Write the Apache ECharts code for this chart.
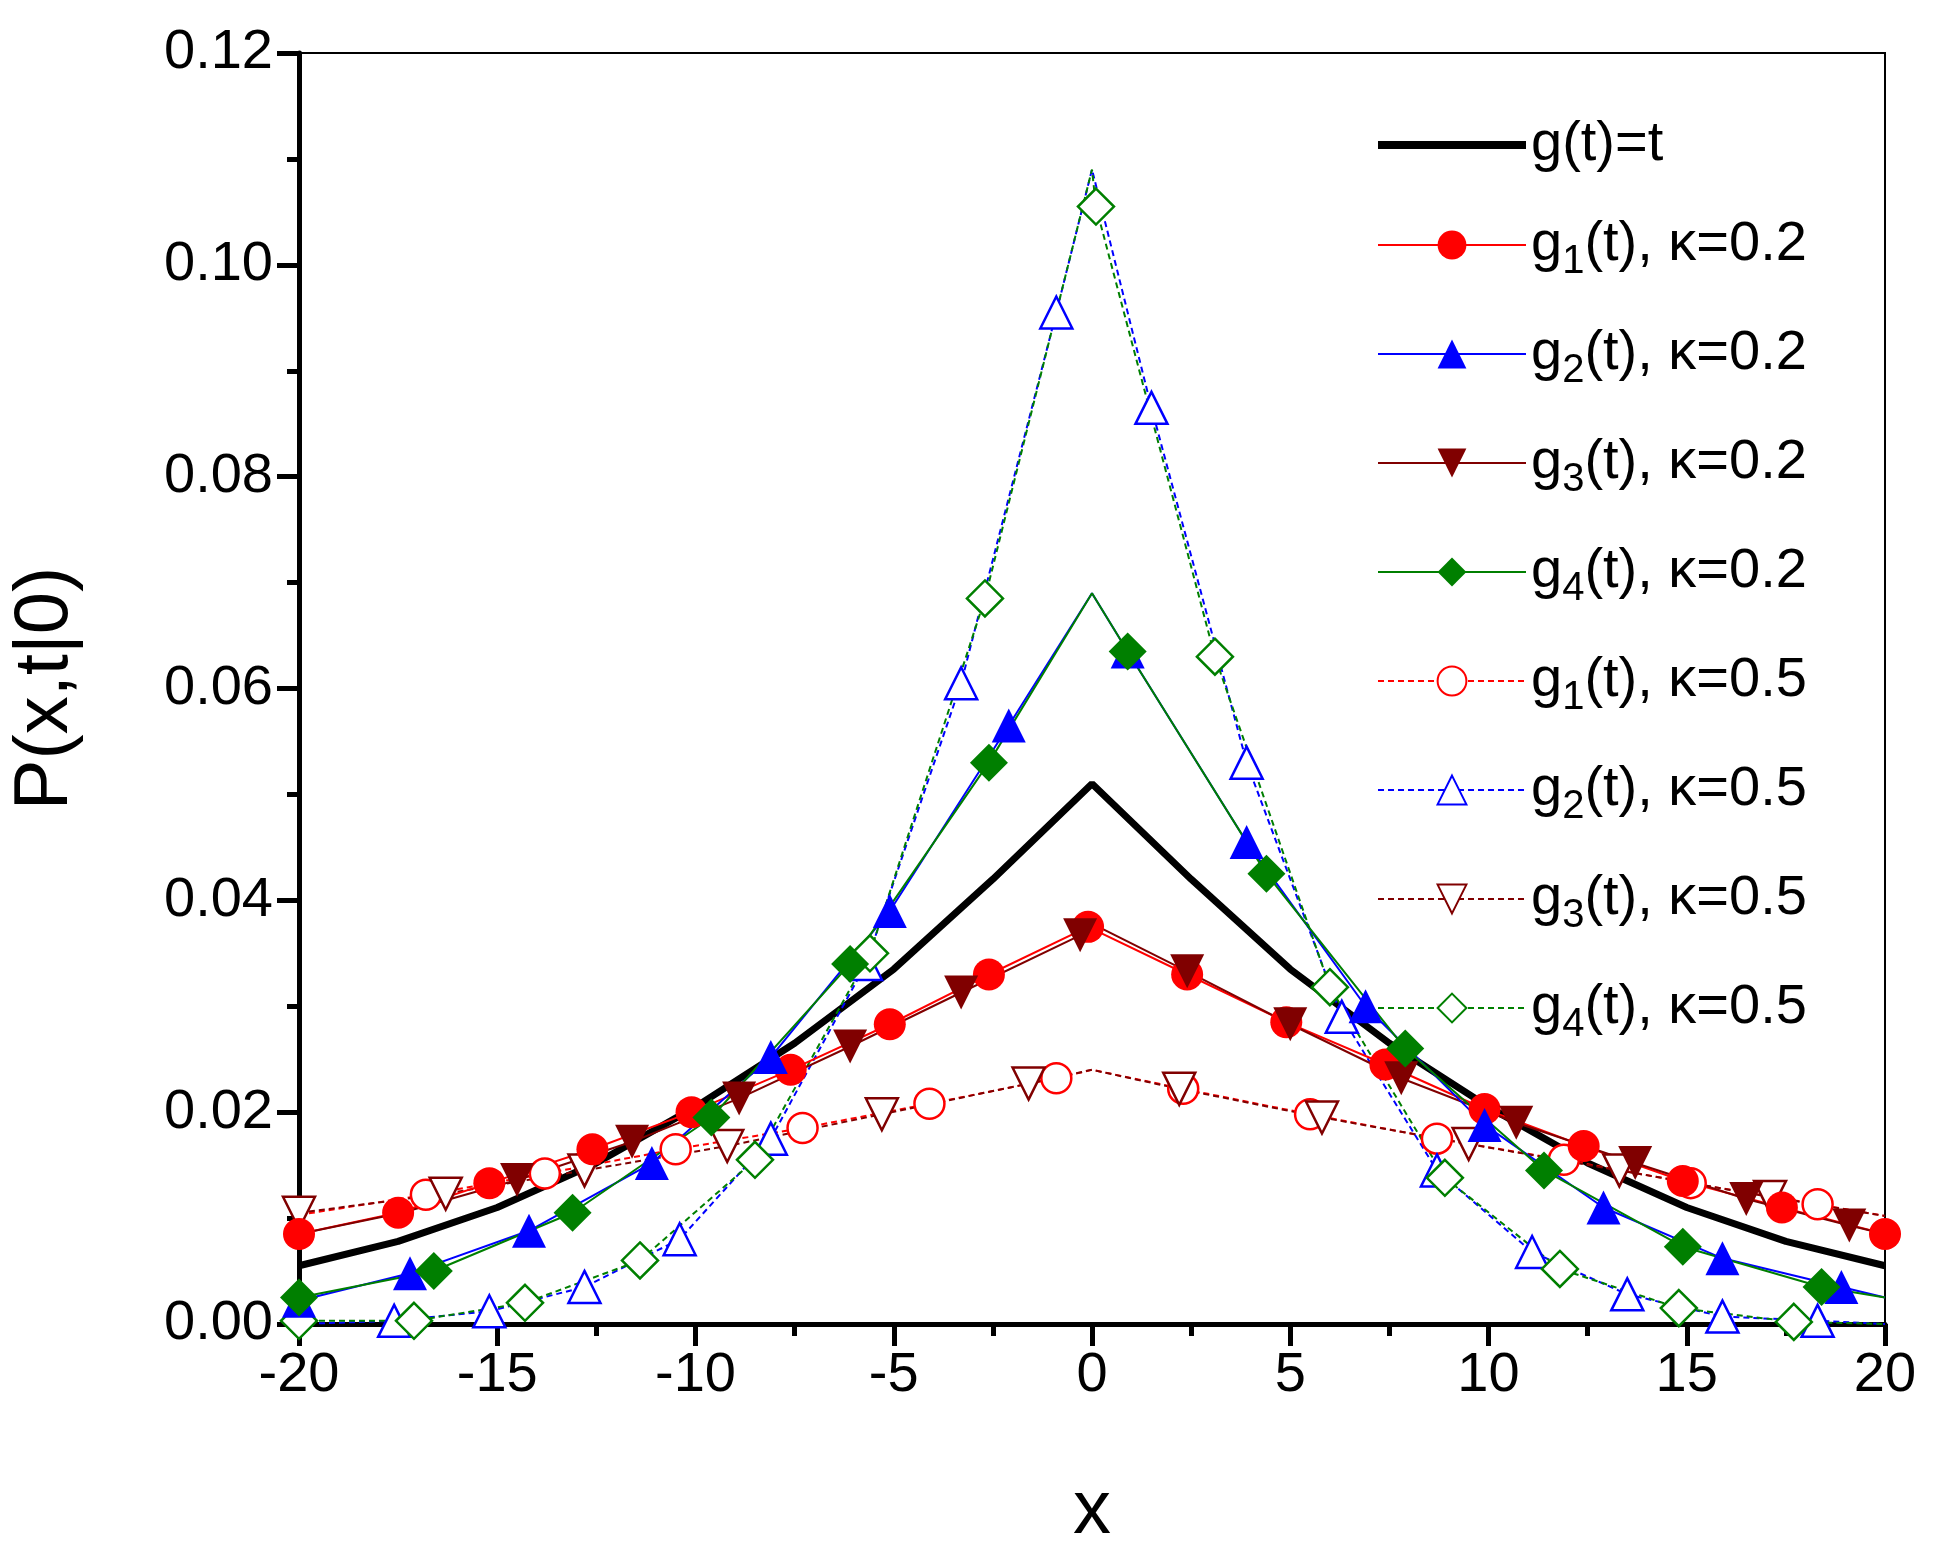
<!DOCTYPE html>
<html><head><meta charset="utf-8">
<script src="https://cdn.jsdelivr.net/npm/echarts@6/dist/echarts.min.js"></script>
<style>html,body{margin:0;background:#fff}#c{width:1934px;height:1555px}</style>
</head><body><div id="c"></div>
<script>
const blackLine=[[-20,0.0055],[-17.5,0.0078],[-15,0.011],[-12.5,0.0152],[-10,0.0205],[-7.5,0.0265],[-5,0.0335],[-2.5,0.042],[0,0.051],[2.5,0.042],[5,0.0335],[7.5,0.0265],[10,0.0205],[12.5,0.0152],[15,0.011],[17.5,0.0078],[20,0.0055]];
const g1k02=[[-20,0.0085],[-17.5,0.0105],[-15.2,0.0133],[-12.6,0.0165],[-10.1,0.02],[-7.6,0.024],[-5.1,0.0283],[-2.6,0.033],[-0.1,0.0375],[2.4,0.033],[4.9,0.0285],[7.4,0.0245],[9.9,0.0203],[12.4,0.0168],[14.9,0.0135],[17.4,0.011],[20,0.0085]];
const g2k02=[[-20,0.0022],[-17.2,0.0048],[-14.2,0.0088],[-11.1,0.0152],[-8.1,0.0252],[-5.1,0.039],[-2.1,0.0565],[0,0.069,'p'],[0.9,0.0635],[3.9,0.0455],[6.9,0.030],[9.9,0.0188],[12.9,0.011],[15.9,0.0062],[18.9,0.0035],[20,0.0025,'p']];
const g3k02=[[-20,0.0085,'p'],[-17.4,0.0105,'p'],[-14.5,0.0136],[-11.6,0.0172],[-8.9,0.0213],[-6.1,0.0262],[-3.3,0.0313],[-0.3,0.0367],[0,0.0378,'p'],[2.4,0.0333],[5.0,0.0283],[7.8,0.0232],[10.7,0.019],[13.7,0.0152],[16.5,0.0118],[19.1,0.0093],[20,0.0085,'p']];
const g4k02=[[-20,0.0025],[-16.6,0.005],[-13.1,0.0105],[-9.6,0.0195],[-6.1,0.034],[-2.6,0.053],[0,0.069,'p'],[0.9,0.0635],[4.4,0.0425],[7.9,0.026],[11.4,0.0145],[14.9,0.0073],[18.4,0.0035],[20,0.0025,'p']];
const g1k05=[[-20,0.0103,'p'],[-16.8,0.0122],[-13.8,0.0142],[-10.5,0.0165],[-7.3,0.0185],[-4.1,0.0208],[-0.9,0.0232],[0,0.024,'p'],[2.3,0.0222],[5.5,0.0198],[8.7,0.0175],[11.9,0.0155],[15.1,0.0133],[18.3,0.0113],[20,0.0102,'p']];
const g2k05=[[-20,0.0,'p'],[-17.6,0.0003],[-15.2,0.0012],[-12.8,0.0035],[-10.4,0.008],[-8.1,0.0175],[-5.7,0.034],[-3.3,0.0605],[-0.9,0.0955],[0,0.109,'p'],[1.5,0.0865],[3.9,0.053],[6.3,0.029],[8.7,0.0145],[11.1,0.0068],[13.5,0.0028],[15.9,0.0007],[18.3,0.0003],[20,0.0,'p']];
const g3k05=[[-20,0.0105],[-16.3,0.0123],[-12.8,0.0145],[-9.2,0.0168],[-5.3,0.0198],[-1.6,0.0227],[0,0.024,'p'],[2.2,0.0222],[5.8,0.0195],[9.5,0.017],[13.3,0.0145],[17.1,0.012],[20,0.0102,'p']];
const g4k05=[[-20,0.0003],[-17.1,0.0003],[-14.3,0.002],[-11.4,0.006],[-8.5,0.0155],[-5.6,0.035],[-2.7,0.0685],[0,0.109,'p'],[0.1,0.1055],[3.1,0.063],[6.0,0.0318],[8.9,0.0138],[11.8,0.0052],[14.8,0.0015],[17.7,0.0002],[20,0.0,'p']];
const names=['g(t)=t','g1(t), κ=0.2','g2(t), κ=0.2','g3(t), κ=0.2','g4(t), κ=0.2','g1(t), κ=0.5','g2(t), κ=0.5','g3(t), κ=0.5','g4(t), κ=0.5'];

function pts(a){return a.map(p=>p[2]==='p'?{value:[p[0],p[1]],symbol:'none'}:[p[0],p[1]]);}
function mk(name,data,color,symbol,filled,dashed,size){
  return {name,type:'line',data:pts(data),symbol,symbolSize:size,
    lineStyle:{color,width:2,type:dashed?[6,4]:'solid'},
    itemStyle:filled?{color,borderWidth:0}:{color:'#fff',borderColor:color,borderWidth:2.5},
    emphasis:{disabled:true},animation:false,clip:true};
}
const red='#ff0000',blue='#0000ff',dred='#800000',green='#007f00';
const tri='path://M0,-10L10,8L-10,8Z', dtri='path://M0,10L10,-8L-10,-8Z';
const series=[
  {name:names[0],type:'line',data:blackLine,symbol:'circle',symbolSize:0,showSymbol:false,lineStyle:{color:'#000',width:7},itemStyle:{color:'#000'},animation:false},
  mk(names[5],g1k05,red,'circle',false,true,30),
  mk(names[7],g3k05,dred,dtri,false,true,32),
  mk(names[6],g2k05,blue,tri,false,true,32),
  mk(names[8],g4k05,green,'diamond',false,true,36),
  mk(names[1],g1k02,red,'circle',true,false,32),
  mk(names[3],g3k02,dred,dtri,true,false,34),
  mk(names[2],g2k02,blue,tri,true,false,34),
  mk(names[4],g4k02,green,'diamond',true,false,38)
];
const legendData=names.map((n,i)=>i===0?{name:n,itemStyle:{opacity:0},lineStyle:{width:8,color:'#000'}}:{name:n});
const chart=echarts.init(document.getElementById('c'));
chart.setOption({
  backgroundColor:'#fff',
  grid:{left:297,right:49,top:53,bottom:222,show:true,borderColor:'#000',borderWidth:2},
  legend:{data:legendData,orient:'vertical',left:1369,top:112,itemGap:44,itemWidth:148,itemHeight:36,
    formatter:n=>{const m=n.match(/^g(\d)(\(t\), κ=.*)$/);return m?'{a|g}{s|'+m[1]+'}{a|'+m[2]+'}':'{a|'+n+'}';},
    textStyle:{fontFamily:'Liberation Sans',color:'#000',rich:{a:{fontSize:56,fontFamily:'Liberation Sans',color:'#000'},s:{fontSize:40,fontFamily:'Liberation Sans',color:'#000',verticalAlign:'bottom',padding:[34,0,0,0]}}}},
  xAxis:{type:'value',min:-20,max:20,interval:5,name:'x',nameLocation:'middle',nameGap:150,
    nameTextStyle:{fontSize:76,fontFamily:'Liberation Sans',color:'#000'},
    axisLine:{onZero:false,lineStyle:{color:'#000',width:5}},
    axisTick:{inside:false,length:22,lineStyle:{width:5,color:'#000'}},
    minorTick:{show:true,splitNumber:2,length:12,lineStyle:{width:5,color:'#000'}},
    axisLabel:{fontSize:56,fontFamily:'Liberation Sans',color:'#000',margin:24},splitLine:{show:false}},
  yAxis:{type:'value',min:0,max:0.12,interval:0.02,name:'P(x,t|0)',nameLocation:'middle',nameGap:215,
    nameTextStyle:{fontSize:76,fontFamily:'Liberation Sans',color:'#000'},
    axisLine:{onZero:false,lineStyle:{color:'#000',width:5}},
    axisTick:{inside:false,length:22,lineStyle:{width:5,color:'#000'}},
    minorTick:{show:true,splitNumber:2,length:12,lineStyle:{width:5,color:'#000'}},
    axisLabel:{fontSize:56,fontFamily:'Liberation Sans',color:'#000',margin:26,formatter:v=>v.toFixed(2)},splitLine:{show:false}},
  series
});
</script></body></html>
